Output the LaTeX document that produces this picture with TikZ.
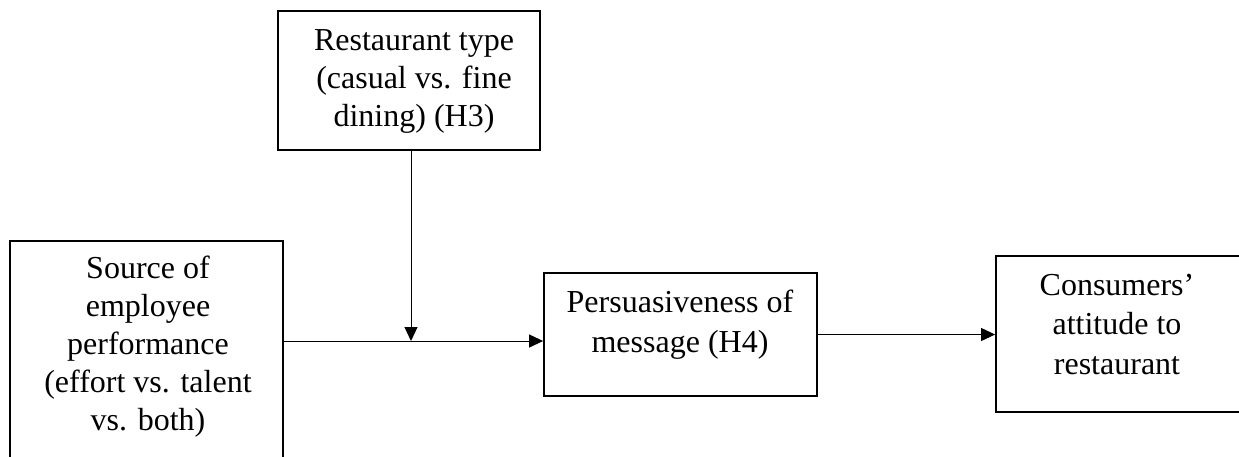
\documentclass[tikz,border=0pt]{standalone}
\usepackage{fontspec}
\setmainfont{Liberation Serif}
\usetikzlibrary{arrows.meta}
\begin{document}
\begin{tikzpicture}[x=1pt,y=-1pt,
  box/.style={draw, line width=1.8pt, inner sep=0pt},
  txt/.style={align=center, inner sep=0pt, anchor=base, font=\fontsize{32}{38}\selectfont},
  txtb/.style={txt, font=\fontsize{32}{39.5}\selectfont},
  arr/.style={line width=1pt, -{Triangle[length=14pt,width=13pt]}}]
\useasboundingbox (0,0) rectangle (1239,456);
\fill[white] (0,0) rectangle (1239,456);
\clip (0,0) rectangle (1239,456);
% boxes
\node[box, minimum width=262pt, minimum height=139pt] (rt) at (409,80.5) {};
\node[box, minimum width=273pt, minimum height=240pt] (src) at (146.5,361) {};
\node[box, minimum width=273pt, minimum height=123pt] (per) at (680.5,334.5) {};
\node[box, minimum width=260pt, minimum height=156pt] (con) at (1126,334) {};
% texts (anchored at the baseline of their last line)
\node[txt] (rtT) at (414,126) {Restaurant type\\(casual vs. fine\\dining) (H3)};
\node[txt] (srcT) at (148,430) {Source of\\employee\\performance\\(effort vs. talent\\vs. both)};
\node[txtb] (perT) at (680,352) {Persuasiveness of\\message (H4)};
\node[txtb] (conT) at (1117,374) {Consumers’\\attitude to\\restaurant};
% connectors
\coordinate (j) at (411,341);
\draw[arr] (src.east |- j) -- (per.west |- j);
\draw[arr] (rt.south -| j) -- (j);
\draw[arr] (per.east) -- (per.east -| con.west);
\end{tikzpicture}
\end{document}
